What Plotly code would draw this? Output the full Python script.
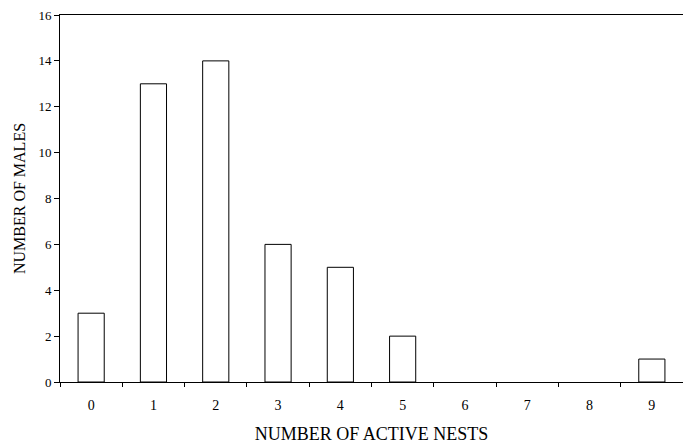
import plotly.graph_objects as go

categories = ["0", "1", "2", "3", "4", "5", "6", "7", "8", "9"]
males = [3, 13, 14, 6, 5, 2, 0, 0, 0, 1]

fig = go.Figure(go.Bar(
    x=categories, y=males,
    marker=dict(color="white",
                line=dict(color="black", width=[1 if v > 0 else 0 for v in males])),
    width=0.42,
))
font = "Liberation Serif, Times New Roman, serif"
fig.update_layout(
    width=683, height=436,
    margin=dict(l=52, r=8, t=7, b=62),
    plot_bgcolor="white", paper_bgcolor="white",
    showlegend=False,
    font=dict(family=font, color="black", size=13),
)
fig.update_xaxes(
    type="category", tickson="boundaries", ticks="outside", ticklen=4,
    tickcolor="black", showline=True, linecolor="black", linewidth=1, mirror=True,
    showgrid=False, automargin=False, ticklabelstandoff=10,
    tickfont=dict(size=14),
    title=dict(text="NUMBER OF ACTIVE NESTS", font=dict(size=18), standoff=20),
)
fig.update_yaxes(
    range=[0, 16], dtick=2, ticks="outside", ticklen=5, tickcolor="black",
    showline=True, linecolor="black", linewidth=1, mirror=True,
    showgrid=False, zeroline=False, automargin=False, ticklabeloverflow="allow",
    title=dict(text="NUMBER OF MALES", font=dict(size=16), standoff=8),
)
fig.write_html("out.html")
